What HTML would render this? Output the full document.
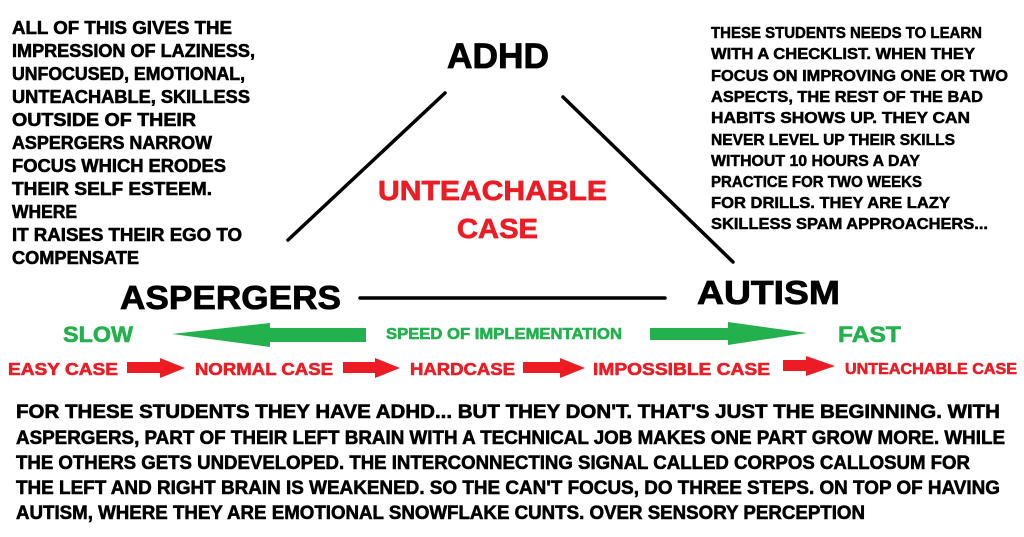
<!DOCTYPE html>
<html><head><meta charset="utf-8"><style>
html,body{margin:0;padding:0;background:#fff;width:1024px;height:537px;overflow:hidden}
svg{display:block}
text{font-family:"Liberation Sans",sans-serif;font-weight:bold}
</style></head><body>
<svg width="1024" height="537" viewBox="0 0 1024 537" xmlns="http://www.w3.org/2000/svg">
<g font-size="18" fill="#000" stroke="#000" stroke-width="0.6">
<text x="12" y="34" textLength="220" lengthAdjust="spacingAndGlyphs">ALL OF THIS GIVES THE</text>
<text x="12" y="57" textLength="243" lengthAdjust="spacingAndGlyphs">IMPRESSION OF LAZINESS,</text>
<text x="12" y="80" textLength="233" lengthAdjust="spacingAndGlyphs">UNFOCUSED, EMOTIONAL,</text>
<text x="12" y="103" textLength="238" lengthAdjust="spacingAndGlyphs">UNTEACHABLE, SKILLESS</text>
<text x="12" y="126" textLength="184" lengthAdjust="spacingAndGlyphs">OUTSIDE OF THEIR</text>
<text x="12" y="149" textLength="200" lengthAdjust="spacingAndGlyphs">ASPERGERS NARROW</text>
<text x="12" y="172" textLength="214" lengthAdjust="spacingAndGlyphs">FOCUS WHICH ERODES</text>
<text x="12" y="195" textLength="200" lengthAdjust="spacingAndGlyphs">THEIR SELF ESTEEM.</text>
<text x="12" y="218" textLength="65" lengthAdjust="spacingAndGlyphs">WHERE</text>
<text x="12" y="241" textLength="230" lengthAdjust="spacingAndGlyphs">IT RAISES THEIR EGO TO</text>
<text x="12" y="264" textLength="127" lengthAdjust="spacingAndGlyphs">COMPENSATE</text>
</g>
<g font-size="15.5" fill="#000" stroke="#000" stroke-width="0.5">
<text x="711" y="38" textLength="271" lengthAdjust="spacingAndGlyphs">THESE STUDENTS NEEDS TO LEARN</text>
<text x="711" y="59" textLength="264" lengthAdjust="spacingAndGlyphs">WITH A CHECKLIST. WHEN THEY</text>
<text x="711" y="81" textLength="297" lengthAdjust="spacingAndGlyphs">FOCUS ON IMPROVING ONE OR TWO</text>
<text x="711" y="102" textLength="272" lengthAdjust="spacingAndGlyphs">ASPECTS, THE REST OF THE BAD</text>
<text x="711" y="123" textLength="259" lengthAdjust="spacingAndGlyphs">HABITS SHOWS UP. THEY CAN</text>
<text x="711" y="145" textLength="244" lengthAdjust="spacingAndGlyphs">NEVER LEVEL UP THEIR SKILLS</text>
<text x="711" y="166" textLength="209" lengthAdjust="spacingAndGlyphs">WITHOUT 10 HOURS A DAY</text>
<text x="711" y="187" textLength="211" lengthAdjust="spacingAndGlyphs">PRACTICE FOR TWO WEEKS</text>
<text x="711" y="208" textLength="239" lengthAdjust="spacingAndGlyphs">FOR DRILLS. THEY ARE LAZY</text>
<text x="711" y="229" textLength="277" lengthAdjust="spacingAndGlyphs">SKILLESS SPAM APPROACHERS...</text>
</g>
<g stroke="#000" stroke-width="0.8">
<text x="447" y="68" font-size="35" textLength="102" lengthAdjust="spacingAndGlyphs">ADHD</text>
<text x="120" y="309" font-size="33" textLength="221" lengthAdjust="spacingAndGlyphs">ASPERGERS</text>
<text x="697" y="304" font-size="33" textLength="143" lengthAdjust="spacingAndGlyphs">AUTISM</text>
</g>
<g stroke="#000" stroke-width="3.5" stroke-linecap="round">
<line x1="288" y1="240" x2="445" y2="93"/>
<line x1="563" y1="97" x2="733" y2="262"/>
<line x1="360" y1="298" x2="665" y2="298"/>
</g>
<g fill="#ed1c24" stroke="#ed1c24" stroke-width="0.7" font-size="28">
<text x="378" y="200" textLength="229" lengthAdjust="spacingAndGlyphs">UNTEACHABLE</text>
<text x="457" y="238" textLength="81" lengthAdjust="spacingAndGlyphs">CASE</text>
</g>
<g fill="#22b14c">
<g stroke="#22b14c" stroke-width="0.6">
<text x="63" y="342" font-size="22" textLength="70" lengthAdjust="spacingAndGlyphs">SLOW</text>
<text x="386" y="339" font-size="15.5" textLength="236" lengthAdjust="spacingAndGlyphs">SPEED OF IMPLEMENTATION</text>
<text x="838" y="342" font-size="22" textLength="63" lengthAdjust="spacingAndGlyphs">FAST</text>
</g>
<polygon points="172,334 270,323 270,328 366,328 366,342 270,342 270,347"/>
<polygon points="650,328 728,328 728,322 807,333 728,345 728,340 650,340"/>
</g>
<g fill="#ed1c24">
<g stroke="#ed1c24" stroke-width="0.6">
<text x="8" y="375" font-size="17.5" textLength="110" lengthAdjust="spacingAndGlyphs">EASY CASE</text>
<text x="195" y="375" font-size="17.5" textLength="138" lengthAdjust="spacingAndGlyphs">NORMAL CASE</text>
<text x="410" y="375" font-size="17.5" textLength="105" lengthAdjust="spacingAndGlyphs">HARDCASE</text>
<text x="593" y="375" font-size="17.5" textLength="177" lengthAdjust="spacingAndGlyphs">IMPOSSIBLE CASE</text>
<text x="845" y="374" font-size="15.5" textLength="172" lengthAdjust="spacingAndGlyphs">UNTEACHABLE CASE</text>
</g>
<polygon points="127,362 160,362 160,358 185,368 160,378 160,373 127,373"/>
<polygon points="343,362 375,362 375,358 400,368 375,378 375,373 343,373"/>
<polygon points="523,362 560,362 560,358 585,368 560,378 560,373 523,373"/>
<polygon points="783,360 806,360 806,356 835,366 806,376 806,371 783,371"/>
</g>
<g font-size="19.5" fill="#000" stroke="#000" stroke-width="0.6">
<text x="16" y="418" textLength="984" lengthAdjust="spacingAndGlyphs">FOR THESE STUDENTS THEY HAVE ADHD... BUT THEY DON'T. THAT'S JUST THE BEGINNING. WITH</text>
<text x="16" y="444" textLength="989" lengthAdjust="spacingAndGlyphs">ASPERGERS, PART OF THEIR LEFT BRAIN WITH A TECHNICAL JOB MAKES ONE PART GROW MORE. WHILE</text>
<text x="16" y="469" textLength="954" lengthAdjust="spacingAndGlyphs">THE OTHERS GETS UNDEVELOPED. THE INTERCONNECTING SIGNAL CALLED CORPOS CALLOSUM FOR</text>
<text x="16" y="494" textLength="984" lengthAdjust="spacingAndGlyphs">THE LEFT AND RIGHT BRAIN IS WEAKENED. SO THE CAN'T FOCUS, DO THREE STEPS. ON TOP OF HAVING</text>
<text x="16" y="519" textLength="849" lengthAdjust="spacingAndGlyphs">AUTISM, WHERE THEY ARE EMOTIONAL SNOWFLAKE CUNTS. OVER SENSORY PERCEPTION</text>
</g>
</svg>
</body></html>
